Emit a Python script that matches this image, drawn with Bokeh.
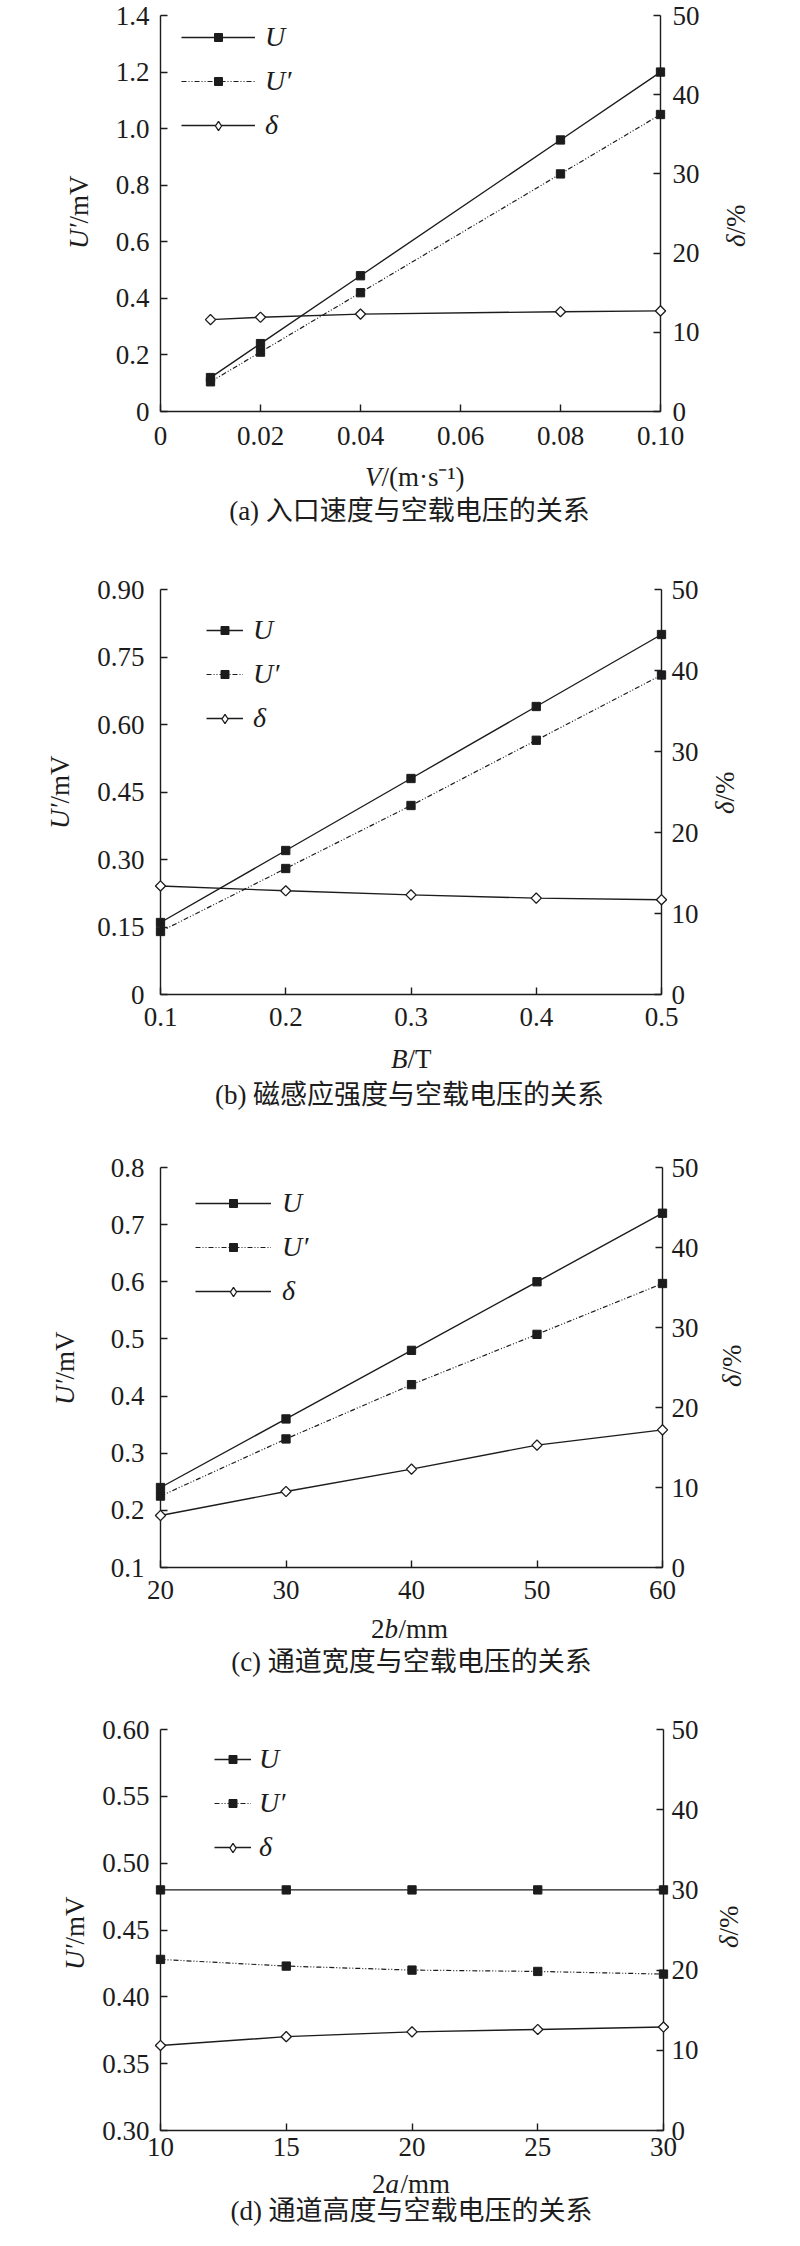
import math
from bokeh.plotting import figure
from bokeh.models import Range1d, LinearAxis, FixedTicker, Legend, LegendItem
from bokeh.layouts import column
from bokeh.embed import file_html
from bokeh.resources import INLINE
from bokeh.core.properties import value

# ---------------- data ----------------
a_x = [0.01, 0.02, 0.04, 0.08, 0.10]
a_U = [0.12, 0.24, 0.48, 0.96, 1.20]
a_Up = [0.105, 0.21, 0.42, 0.84, 1.05]
a_delta = [11.6, 11.9, 12.3, 12.6, 12.7]

b_x = [0.1, 0.2, 0.3, 0.4, 0.5]
b_U = [0.16, 0.32, 0.48, 0.64, 0.80]
b_Up = [0.14, 0.28, 0.42, 0.565, 0.71]
b_delta = [13.4, 12.8, 12.3, 11.9, 11.7]

c_x = [20, 30, 40, 50, 60]
c_U = [0.24, 0.36, 0.48, 0.60, 0.72]
c_Up = [0.225, 0.325, 0.42, 0.508, 0.597]
c_delta = [6.5, 9.5, 12.3, 15.3, 17.2]

d_x = [10, 15, 20, 25, 30]
d_U = [0.48, 0.48, 0.48, 0.48, 0.48]
d_Up = [0.428, 0.423, 0.420, 0.419, 0.417]
d_delta = [10.6, 11.7, 12.3, 12.6, 12.9]

a_xticks = [0, 0.02, 0.04, 0.06, 0.08, 0.10]
a_xlabels = ["0", "0.02", "0.04", "0.06", "0.08", "0.10"]
a_yticks = [0, 0.2, 0.4, 0.6, 0.8, 1.0, 1.2, 1.4]
a_ylabels = ["0", "0.2", "0.4", "0.6", "0.8", "1.0", "1.2", "1.4"]

b_xticks = [0.1, 0.2, 0.3, 0.4, 0.5]
b_xlabels = ["0.1", "0.2", "0.3", "0.4", "0.5"]
b_yticks = [0, 0.15, 0.30, 0.45, 0.60, 0.75, 0.90]
b_ylabels = ["0", "0.15", "0.30", "0.45", "0.60", "0.75", "0.90"]

c_xticks = [20, 30, 40, 50, 60]
c_xlabels = ["20", "30", "40", "50", "60"]
c_yticks = [0.1, 0.2, 0.3, 0.4, 0.5, 0.6, 0.7, 0.8]
c_ylabels = ["0.1", "0.2", "0.3", "0.4", "0.5", "0.6", "0.7", "0.8"]

d_xticks = [10, 15, 20, 25, 30]
d_xlabels = ["10", "15", "20", "25", "30"]
d_yticks = [0.30, 0.35, 0.40, 0.45, 0.50, 0.55, 0.60]
d_ylabels = ["0.30", "0.35", "0.40", "0.45", "0.50", "0.55", "0.60"]

r_ticks = [0, 10, 20, 30, 40, 50]
r_labels = ["0", "10", "20", "30", "40", "50"]

legend_labels = ["U", "U\u2032", "\u03b4"]
captions = ["(a) 入口速度与空载电压的关系", "(b) 磁感应强度与空载电压的关系",
            "(c) 通道宽度与空载电压的关系", "(d) 通道高度与空载电压的关系"]

# ---------------- style ----------------
SERIF = "Liberation Serif"
CAPFONT = "Liberation Serif, Noto Sans CJK SC"
INK = "#1c1c1c"
NAN = float("nan")
ROW = 44
T_H = 40
M_H = 20
D_H = 23


def style_axis(ax, standoff):
    ax.axis_line_color = INK
    ax.axis_line_width = 1.4
    ax.major_tick_line_color = INK
    ax.major_tick_line_width = 1.4
    ax.major_tick_in = 7
    ax.major_tick_out = 0
    ax.minor_tick_line_color = None
    ax.major_label_text_font = SERIF
    ax.major_label_text_font_size = "27px"
    ax.major_label_text_color = INK
    ax.major_label_standoff = standoff


def bare_legend(items, loc, gw, gh, spacing, **kw):
    return Legend(items=items, location=loc, glyph_width=gw, glyph_height=gh, label_height=gh,
                  spacing=spacing, padding=0, margin=0, border_line_color=None,
                  background_fill_alpha=0, **kw)


def panel(x, U, Up, dl, xr, yr, xt, xl, yt, yl, cap, lay):
    fw, fh = lay["fw"], lay["fh"]
    p = figure(frame_width=fw, frame_height=fh,
               x_range=Range1d(*xr), y_range=Range1d(*yr),
               min_border_left=lay["bl"], min_border_right=lay["br"],
               min_border_top=lay["bt"], min_border_bottom=lay["bb"],
               output_backend="svg", toolbar_location=None)
    p.outline_line_color = None
    p.xgrid.visible = False
    p.ygrid.visible = False
    p.background_fill_color = "white"
    p.border_fill_color = "white"

    p.xaxis.ticker = FixedTicker(ticks=xt)
    p.xaxis.major_label_overrides = dict(zip(xt, xl))
    style_axis(p.xaxis[0], lay["xs"])
    p.yaxis.ticker = FixedTicker(ticks=yt)
    p.yaxis.major_label_overrides = dict(zip(yt, yl))
    style_axis(p.yaxis[0], lay["ys"])

    p.extra_y_ranges = {"delta": Range1d(0, 50)}
    ra = LinearAxis(y_range_name="delta", ticker=FixedTicker(ticks=r_ticks),
                    major_label_overrides=dict(zip(r_ticks, r_labels)))
    style_axis(ra, lay["rs"])
    p.add_layout(ra, "right")

    lu = p.line(x, U, line_color=INK, line_width=1.4, level="overlay")
    su = p.scatter(x, U, marker="square", size=8.3, fill_color=INK, line_color=INK, level="overlay")
    lup = p.line(x, Up, line_color=INK, line_width=1.2, line_dash="5 2 1 2 1 2", level="overlay")
    sup = p.scatter(x, Up, marker="square", size=8.3, fill_color=INK, line_color=INK, level="overlay")
    ld = p.line(x, dl, y_range_name="delta", line_color=INK, line_width=1.4, level="overlay")
    sd = p.scatter(x, dl, y_range_name="delta", marker="square", angle=math.pi / 4, size=7.2,
                   fill_color="white", line_color=INK, line_width=1.3, level="overlay")
    # legend-only diamond key (single NaN point: nothing drawn inside the plot)
    key_d = p.scatter(x=[NAN], y=[NAN], marker="diamond", fill_color="white", line_color=INK,
                      line_width=1.3, level="overlay")

    lx, row1 = lay["leg"]
    gw = lay["gw"]
    sp_t = ROW - T_H
    top_t = row1 - T_H / 2
    leg_t = bare_legend([LegendItem(label=legend_labels[0], renderers=[lu]),
                         LegendItem(label=legend_labels[1], renderers=[lup]),
                         LegendItem(label=legend_labels[2], renderers=[ld])],
                        (lx, fh - top_t - (3 * T_H + 2 * sp_t)), gw, T_H, sp_t,
                        label_standoff=lay["ls"], label_text_font=SERIF,
                        label_text_font_style="italic", label_text_font_size="28px",
                        label_text_color=INK)
    sp_m = ROW - M_H
    top_m = row1 - M_H / 2
    leg_m = bare_legend([LegendItem(label=" ", renderers=[su]),
                         LegendItem(label=" ", renderers=[sup])],
                        (lx, fh - top_m - (2 * M_H + sp_m)), gw, M_H, sp_m,
                        label_text_font_size="1px")
    top_d = row1 + 2 * ROW - D_H / 2
    leg_d = bare_legend([LegendItem(label=" ", renderers=[key_d])],
                        (lx, fh - top_d - D_H), gw, D_H, 0, label_text_font_size="1px")
    for lg in (leg_t, leg_m, leg_d):
        p.add_layout(lg)

    def txt(px, py, text, size="27px", style="normal", align="center", angle=0, font=SERIF):
        xx = xr[0] + px * (xr[1] - xr[0]) / fw
        yy = yr[0] + py * (yr[1] - yr[0]) / fh
        p.text(x=[xx], y=[yy], text=[text], text_font=value(font), text_font_size=value(size),
               text_font_style=value(style), text_align=value(align),
               text_baseline=value("middle"), angle=angle, text_color=INK, level="overlay")

    for (t, px, st, al) in lay["xlab"]:
        txt(px, lay["xly"], t, style=st, align=al)
    txt(lay["ylx"], lay["ylb"], "U\u2032", style="italic", align="right", angle=math.pi / 2)
    txt(lay["ylx"], lay["ylb"], "/mV", align="left", angle=math.pi / 2)
    txt(lay["rlx"], lay["rlb"], "\u03b4", style="italic", align="right", angle=math.pi / 2)
    txt(lay["rlx"], lay["rlb"], "/%", align="left", angle=math.pi / 2)
    txt(lay["cap"][0], lay["cap"][1], cap, size="27px", font=CAPFONT)
    return p


# plot (a): frame top kept a little below the page edge so that the top tick labels are not cut
LAY_A = dict(fw=500, fh=396, bl=153, br=131, bt=15, bb=147, xs=15, ys=11, rs=12, leg=(21, 22), gw=74, ls=10,
             xlab=[("V", 221, "italic", "right"), ("/(m\u00b7s\u207b\u00b9)", 221, "normal", "left")],
             xly=-65, ylx=-82, ylb=188, rlx=575, rlb=177, cap=(249, -99))
LAY_B = dict(fw=501, fh=405, bl=160, br=123, bt=31, bb=138, xs=13, ys=16, rs=10, leg=(46, 41), gw=37, ls=10,
             xlab=[("B", 247, "italic", "right"), ("/T", 247, "normal", "left")],
             xly=-64, ylx=-101, ylb=191, rlx=564, rlb=193, cap=(249, -100))
LAY_C = dict(fw=502, fh=400, bl=154, br=128, bt=35, bb=125, xs=13, ys=16, rs=9, leg=(35, 36), gw=76, ls=11,
             xlab=[("2", 224, "normal", "right"), ("b", 224, "italic", "left"), ("/mm", 238, "normal", "left")],
             xly=-61, ylx=-96, ylb=188, rlx=571, rlb=193, cap=(251, -94))
LAY_D = dict(fw=503, fh=401, bl=157, br=124, bt=37, bb=100, xs=7, ys=11, rs=8, leg=(54, 30), gw=37, ls=8,
             xlab=[("2", 225, "normal", "right"), ("a", 225, "italic", "left"), ("/mm", 240, "normal", "left")],
             xly=-53, ylx=-86, ylb=186, rlx=568, rlb=195, cap=(251, -80))

pa = panel(a_x, a_U, a_Up, a_delta, (0, 0.10), (0, 1.4), a_xticks, a_xlabels, a_yticks, a_ylabels, captions[0], LAY_A)
pb = panel(b_x, b_U, b_Up, b_delta, (0.1, 0.5), (0, 0.9), b_xticks, b_xlabels, b_yticks, b_ylabels, captions[1], LAY_B)
pc = panel(c_x, c_U, c_Up, c_delta, (20, 60), (0.1, 0.8), c_xticks, c_xlabels, c_yticks, c_ylabels, captions[2], LAY_C)
pd = panel(d_x, d_U, d_Up, d_delta, (10, 30), (0.3, 0.6), d_xticks, d_xlabels, d_yticks, d_ylabels, captions[3], LAY_D)

layout = column(pa, pb, pc, pd, spacing=0)
open("out.html", "w").write(file_html(layout, INLINE))
